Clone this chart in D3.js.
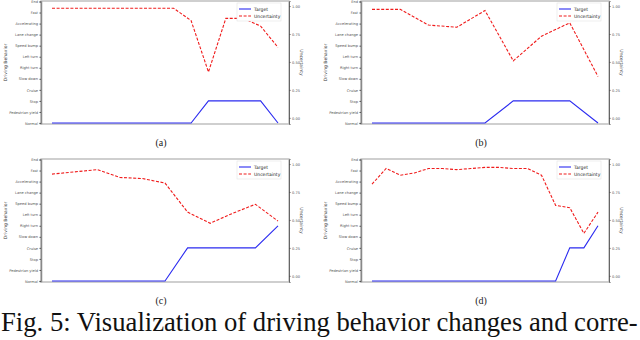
<!DOCTYPE html>
<html>
<head>
<meta charset="utf-8">
<script src="https://cdn.jsdelivr.net/npm/d3@7"></script>
<style>
  body { margin: 0; background: #fff; }
  svg { display: block; }
  .serif { font-family: "Liberation Serif", "Times New Roman", "DejaVu Serif", serif; }
</style>
</head>
<body>
<div id="chart"></div>
<script>
// driving behaviours on the left axis, bottom to top
const behaviorLabels = ['Normal', 'Pedestrian yield', 'Stop', 'Cruise', 'Slow down', 'Right turn',
  'Left turn', 'Speed bump', 'Lane change', 'Accelerating', 'Fast', 'End'];
const uncertaintyTicks = [0, 0.25, 0.5, 0.75, 1];
const uncertaintyLabels = ['0.00', '0.25', '0.50', '0.75', '1.00'];
const seriesNames = ['Target', 'Uncertainty'];

// (a)
const targetA = [0, 0, 0, 0, 0, 0, 0, 0, 0, 2, 2, 2, 2, 0];
const uncertaintyA = [0.98, 0.98, 0.98, 0.98, 0.98, 0.98, 0.98, 0.98, 0.87, 0.41, 0.89, 0.89, 0.82, 0.63];
// (b)
const targetB = [0, 0, 0, 0, 0, 2, 2, 2, 0];
const uncertaintyB = [0.97, 0.97, 0.83, 0.81, 0.96, 0.51, 0.73, 0.85, 0.37];
// (c)
const targetC = [0, 0, 0, 0, 0, 0, 3, 3, 3, 3, 5];
const uncertaintyC = [0.91, 0.93, 0.95, 0.88, 0.87, 0.83, 0.57, 0.47, 0.56, 0.64, 0.49];
// (d)
const targetD = [0, 0, 0, 0, 0, 0, 0, 0, 0, 0, 0, 0, 0, 0, 3, 3, 5];
const uncertaintyD = [0.82, 0.96, 0.90, 0.92, 0.96, 0.96, 0.95, 0.96, 0.97, 0.97, 0.96, 0.96, 0.90, 0.63, 0.61, 0.38, 0.57];

const panelTags = ['(a)', '(b)', '(c)', '(d)'];
const captionText = 'Fig. 5: Visualization of driving behavior changes and corre-';

const svg = d3.select('#chart').append('svg')
  .attr('width', 640)
  .attr('height', 340);

function drawPanel(target, uncertainty, tag, left, top) {
  const width = 248, height = 123;
  const g = svg.append('g').attr('transform', `translate(${left},${top})`);

  const x = d3.scaleLinear().domain([0, target.length - 1]).range([11, width - 11]);
  const yLeft = d3.scaleLinear().domain([0, behaviorLabels.length - 1]).range([height - 1, 0.5]);
  const yRight = d3.scaleLinear().domain([-0.055, 1.045]).range([height, 0]);

  // frame
  g.append('rect')
    .attr('x', 0).attr('y', 0)
    .attr('width', width).attr('height', height)
    .attr('fill', 'none')
    .attr('stroke', '#bbb')
    .attr('stroke-width', 1.4);

  const leftAxis = g.append('g')
    .call(d3.axisLeft(yLeft)
      .tickValues(d3.range(behaviorLabels.length))
      .tickFormat(i => behaviorLabels[i])
      .tickSize(1.5).tickPadding(1.5));
  leftAxis.select('.domain').attr('stroke', '#888').attr('stroke-width', 1.5);
  leftAxis.selectAll('.tick line').attr('stroke', '#555');
  leftAxis.selectAll('text').style('font-size', '3.6px').style('font-family', 'DejaVu Sans').attr('fill', '#555');

  const rightAxis = g.append('g')
    .attr('transform', `translate(${width},0)`)
    .call(d3.axisRight(yRight)
      .tickValues(uncertaintyTicks)
      .tickFormat((d, i) => uncertaintyLabels[i])
      .tickSize(1.5).tickPadding(1.5));
  rightAxis.select('.domain').attr('stroke', '#666').attr('stroke-width', 1);
  rightAxis.selectAll('.tick line').attr('stroke', '#555');
  rightAxis.selectAll('text').style('font-size', '3.6px').style('font-family', 'DejaVu Sans').attr('fill', '#555');

  // axis titles
  g.append('text')
    .attr('transform', `translate(-34,${height / 2}) rotate(-90)`)
    .attr('text-anchor', 'middle')
    .style('font-size', '4.5px').style('font-family', 'DejaVu Sans')
    .attr('fill', '#333')
    .text('Driving Behavior');
  g.append('text')
    .attr('transform', `translate(${width + 11},${height / 2}) rotate(90)`)
    .attr('text-anchor', 'middle')
    .style('font-size', '4.5px').style('font-family', 'DejaVu Sans')
    .attr('fill', '#333')
    .text('Uncertainty');

  // lines
  g.append('path')
    .datum(target)
    .attr('fill', 'none')
    .attr('stroke', '#2b2bf0')
    .attr('stroke-width', 1.1)
    .attr('d', d3.line().x((d, i) => x(i)).y(d => yLeft(d)));

  g.append('path')
    .datum(uncertainty)
    .attr('fill', 'none')
    .attr('stroke', '#f01c1c')
    .attr('stroke-width', 1.1)
    .attr('stroke-dasharray', '3,1.6')
    .attr('d', d3.line().x((d, i) => x(i)).y(d => yRight(d)));

  // legend
  const lg = g.append('g').attr('transform', `translate(${width - 50},2)`);
  lg.append('rect')
    .attr('x', -2).attr('y', 0)
    .attr('width', 44).attr('height', 18)
    .attr('fill', '#fff')
    .attr('stroke', '#e4e4e4')
    .attr('stroke-width', 0.6);
  seriesNames.forEach((name, i) => {
    lg.append('line')
      .attr('x1', 0).attr('x2', 12)
      .attr('y1', 6 + i * 7).attr('y2', 6 + i * 7)
      .attr('stroke', i === 0 ? '#2b2bf0' : '#f01c1c')
      .attr('stroke-width', 1.1)
      .attr('stroke-dasharray', i === 0 ? null : '3,1.6');
    lg.append('text')
      .attr('x', 15).attr('y', 7.5 + i * 7)
      .style('font-size', '4.5px').style('font-family', 'DejaVu Sans')
      .attr('fill', '#222')
      .text(name);
  });

  svg.append('text')
    .attr('class', 'serif')
    .attr('x', left + width / 2 - 4)
    .attr('y', top + height + 22)
    .attr('text-anchor', 'middle')
    .style('font-size', '10px')
    .attr('fill', '#222')
    .text(tag);
}

drawPanel(targetA, uncertaintyA, panelTags[0], 41, 1);
drawPanel(targetB, uncertaintyB, panelTags[1], 361, 1);
drawPanel(targetC, uncertaintyC, panelTags[2], 41, 159);
drawPanel(targetD, uncertaintyD, panelTags[3], 361, 159);

// figure caption, fitted to the page width
const caption = svg.append('text')
  .attr('class', 'serif')
  .attr('x', 1)
  .attr('y', 331)
  .style('font-size', '22px')
  .attr('fill', '#111')
  .text(captionText);
const w = caption.node().getComputedTextLength();
caption.style('font-size', `${22 * 637 / w}px`);
</script>
</body>
</html>
